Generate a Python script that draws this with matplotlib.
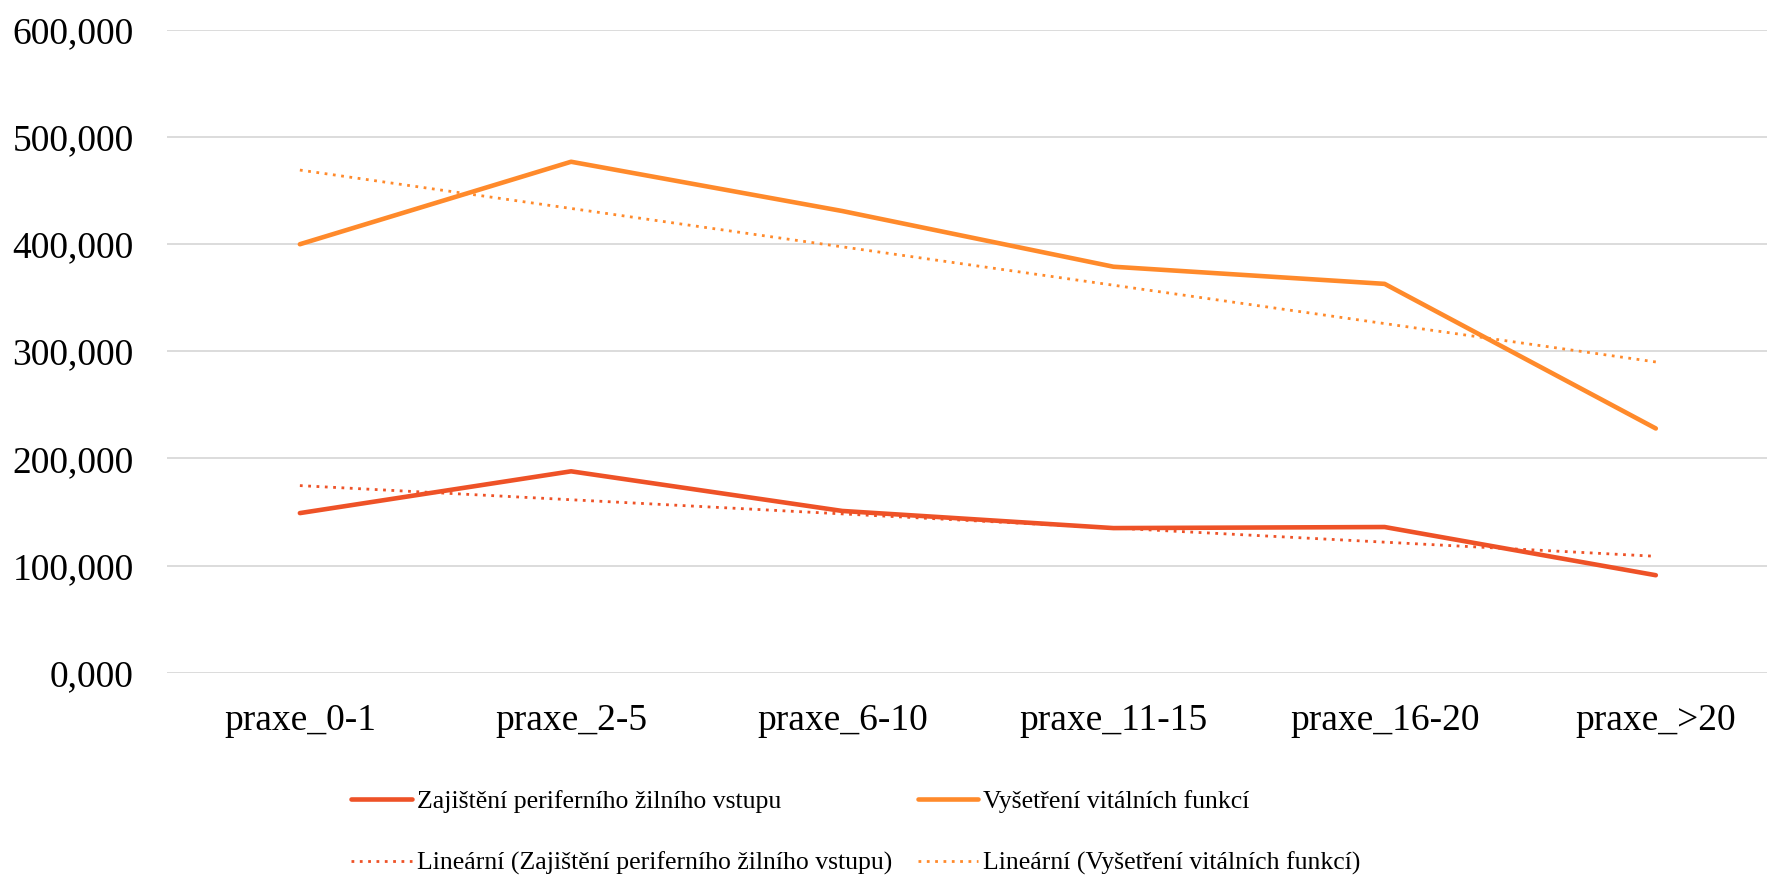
import numpy as np
import matplotlib.pyplot as plt

categories = ["praxe_0-1", "praxe_2-5", "praxe_6-10", "praxe_11-15", "praxe_16-20", "praxe_>20"]
zajisteni = [149, 188, 151, 135, 136, 91]
vysetreni = [400, 477, 431, 379, 363, 228]

name_z = "Zajištění periferního žilního vstupu"
name_v = "Vyšetření vitálních funkcí"

red = "#EE5227"
orange = "#FF8A2B"

plt.rcParams['font.family'] = ['Liberation Serif', 'DejaVu Serif']

fig = plt.figure(figsize=(17.67, 8.82), dpi=100)
ax = fig.add_axes([167 / 1767, (882 - 672.7) / 882, 1 - 167 / 1767, (672.7 - 30) / 882])

x = np.arange(len(categories))

# linear trend lines like Excel
kz = np.polyfit(x, zajisteni, 1)
kv = np.polyfit(x, vysetreni, 1)

l1, = ax.plot(x, zajisteni, color=red, lw=3.3, solid_capstyle='round', solid_joinstyle='round', zorder=3)
l2, = ax.plot(x, vysetreni, color=orange, lw=3.3, solid_capstyle='round', solid_joinstyle='round', zorder=3)
t1, = ax.plot(x, np.polyval(kz, x), color=red, lw=2.0, linestyle=(0, (1, 2)), zorder=4)
t2, = ax.plot(x, np.polyval(kv, x), color=orange, lw=2.0, linestyle=(0, (1, 2)), zorder=4)

ax.set_ylim(0, 600)
ax.set_xlim(-0.49, 5.41)
ax.set_yticks(np.arange(0, 601, 100))
ax.set_yticklabels([f"{v:.3f}".replace('.', ',') for v in np.arange(0, 601, 100)])
ax.set_xticks(x)
ax.set_xticklabels(categories)
ax.tick_params(axis='both', length=0, labelsize=27)
ax.tick_params(axis='y', pad=24)
ax.tick_params(axis='x', pad=22)
ax.grid(axis='y', color='#D9D9D9', lw=1.3)
ax.set_axisbelow(True)
for s in ax.spines.values():
    s.set_visible(False)

fig.legend([l1, t1, l2, t2],
           [name_z, "Lineární (" + name_z + ")", name_v, "Lineární (" + name_v + ")"],
           ncol=2, loc='center', bbox_to_anchor=(0.4845, 0.0556), frameon=False,
           fontsize=18.5, handlelength=2.35, handletextpad=0.2, columnspacing=1.0,
           labelspacing=1.5)

fig.savefig("out.png", dpi=100)
